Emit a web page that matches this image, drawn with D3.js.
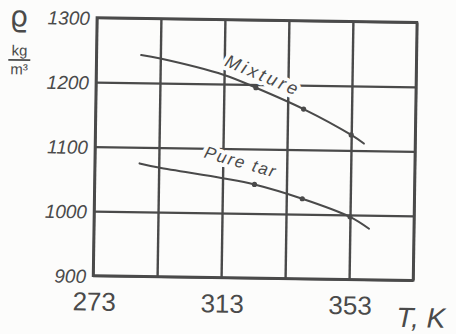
<!DOCTYPE html>
<html>
<head>
<meta charset="utf-8">
<script src="https://cdn.jsdelivr.net/npm/d3@7"></script>
<style>
  html, body { margin: 0; padding: 0; background: #fcfcfb; }
  svg { display: block; }
</style>
</head>
<body>
<svg id="chart" width="456" height="334"></svg>
<script>
// Temperature grid (K) and the labelled subset
const tGrid = [273, 293, 313, 333, 353, 373];
const tLabels = [273, 313, 353];
// Density ticks (kg/m³)
const rhoTicks = [900, 1000, 1100, 1200, 1300];

// Density curves vs temperature
const mixtureT   = [287, 293, 313, 323, 338, 353, 357];
const mixtureRho = [1243, 1238, 1214, 1195, 1163, 1124, 1111];
const pureTarT   = [287, 293, 313, 323, 338, 353, 359];
const pureTarRho = [1075, 1069, 1054, 1045, 1024, 997, 979];
// Temperatures of the measured points marked on both curves
const measuredT  = [323, 338, 353];

const ink = "#4a4a4a";
const paper = "#fcfcfb";

const svg = d3.select("#chart");
const margin = { left: 95, right: 41, top: 20, bottom: 56 };
const W = 456, H = 334;
const x = d3.scaleLinear().domain([273, 373]).range([margin.left, W - margin.right]);
const y = d3.scaleLinear().domain([900, 1300]).range([H - margin.bottom, margin.top]);

// whole sheet sits at a slight tilt
const root = svg.append("g").attr("transform", "rotate(0.85,255,149)");

// grid
root.append("g")
  .attr("transform", `translate(0,${y(900)})`)
  .call(d3.axisBottom(x).tickValues(tGrid).tickSize(-(y(900) - y(1300))).tickFormat(""))
  .call(g => g.select(".domain").remove())
  .call(g => g.selectAll("line").attr("stroke", ink).attr("stroke-width", 2.4));
root.append("g")
  .attr("transform", `translate(${x(273)},0)`)
  .call(d3.axisLeft(y).tickValues(rhoTicks).tickSize(-(x(373) - x(273))).tickFormat(""))
  .call(g => g.select(".domain").remove())
  .call(g => g.selectAll("line").attr("stroke", ink).attr("stroke-width", 2.4));
root.append("rect")
  .attr("x", x(273)).attr("y", y(1300))
  .attr("width", x(373) - x(273)).attr("height", y(900) - y(1300))
  .attr("fill", "none").attr("stroke", ink).attr("stroke-width", 2.6);

// curve labels
const curveLabels = [
  { text: "Mixture", px: 262, py: 75, angle: 22, size: 18, spacing: 3 },
  { text: "Pure tar", px: 241, py: 162, angle: 15, size: 17, spacing: 1.8 }
];
function drawLabels(sel, halo) {
  sel.selectAll("text").data(curveLabels).join("text")
    .attr("transform", d => `translate(${d.px},${d.py}) rotate(${d.angle})`)
    .attr("text-anchor", "middle")
    .attr("dy", "0.35em")
    .attr("font-family", "'Liberation Sans', Arial, sans-serif")
    .attr("font-style", "italic")
    .attr("font-size", d => d.size)
    .attr("letter-spacing", d => d.spacing)
    .attr("fill", halo ? "none" : ink)
    .attr("stroke", halo ? paper : "none")
    .attr("stroke-width", halo ? 8 : 0)
    .attr("stroke-linejoin", "round")
    .text(d => d.text);
}
// white ground under the labels breaks the grid lines
drawLabels(root.append("g"), true);

// curves
const line = d3.line().x(d => x(d[0])).y(d => y(d[1])).curve(d3.curveCatmullRom.alpha(0.5));
const series = [
  d3.zip(mixtureT, mixtureRho),
  d3.zip(pureTarT, pureTarRho)
];
root.append("g").selectAll("path").data(series).join("path")
  .attr("d", line)
  .attr("fill", "none")
  .attr("stroke", ink)
  .attr("stroke-width", 2.1)
  .attr("stroke-linecap", "round");
root.append("g").selectAll("circle")
  .data(series.flatMap(s => s.filter(p => measuredT.includes(p[0]))))
  .join("circle")
  .attr("cx", d => x(d[0])).attr("cy", d => y(d[1]))
  .attr("r", 2.6).attr("fill", ink);

drawLabels(root.append("g"), false);

// axis labels
const font = "'Liberation Sans', Arial, sans-serif";
root.append("g")
  .attr("transform", `translate(${x(273) - 7},0)`)
  .call(d3.axisLeft(y).tickValues(rhoTicks).tickSize(0).tickPadding(0).tickFormat(d3.format("d")))
  .call(g => g.select(".domain").remove())
  .call(g => g.selectAll("text")
    .attr("font-family", font).attr("font-style", "italic").attr("font-size", 19)
    .attr("fill", ink).attr("dy", "0.36em"));
root.append("g")
  .attr("transform", `translate(1,${y(900)})`)
  .call(d3.axisBottom(x).tickValues(tLabels).tickSize(0).tickPadding(0).tickFormat(d3.format("d")))
  .call(g => g.select(".domain").remove())
  .call(g => g.selectAll("text")
    .attr("font-family", font).attr("font-size", 26)
    .attr("fill", ink).attr("y", 0).attr("dy", 35));

root.append("text")
  .attr("x", 399).attr("y", 325)
  .attr("font-family", font).attr("font-style", "italic").attr("font-size", 28)
  .attr("fill", ink).text("T, K");

// density symbol and unit
root.append("text")
  .attr("x", 17).attr("y", 30).attr("text-anchor", "middle")
  .attr("font-family", "'DejaVu Sans', sans-serif").attr("font-size", 29)
  .attr("fill", ink).text("ϱ");
root.append("text")
  .attr("x", 18).attr("y", 59).attr("text-anchor", "middle")
  .attr("font-family", font).attr("font-size", 15)
  .attr("fill", ink).text("kg");
root.append("line")
  .attr("x1", 7).attr("x2", 29).attr("y1", 63.5).attr("y2", 63.5)
  .attr("stroke", ink).attr("stroke-width", 1.6);
root.append("text")
  .attr("x", 18).attr("y", 78).attr("text-anchor", "middle")
  .attr("font-family", font).attr("font-size", 15)
  .attr("fill", ink).text("m³");
</script>
</body>
</html>
